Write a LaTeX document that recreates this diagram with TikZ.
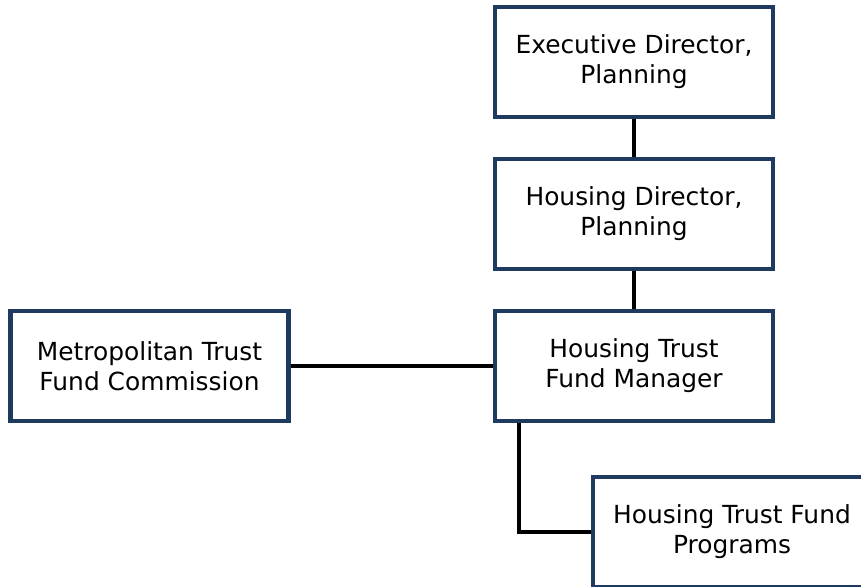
\documentclass[tikz,border=0pt]{standalone}
\usepackage{fontspec}
\setmainfont{DejaVu Sans}
\definecolor{boxnavy}{HTML}{1F3A5F}
\begin{document}
\begin{tikzpicture}[
    orgbox/.style={rectangle, draw=boxnavy, line width=3pt, fill=white, minimum width=6.95cm, minimum height=2.75cm, align=center, font=\fontsize{17.7}{21.3}\selectfont},
    link/.style={draw=black, line width=2.6pt}
]
            \useasboundingbox (0,0) rectangle (21.525,14.65);

            % Top box
            \node[orgbox] (exec) at (15.85,13.1) {Executive Director,\\Planning};

            % Second box
            \node[orgbox] (hdir) at (15.85,9.3) {Housing Director,\\Planning};

            % Manager box
            \node[orgbox] (mgr) at (15.85,5.5) {Housing Trust\\Fund Manager};

            % Commission box on the left
            \node[orgbox] (metro) at (3.7375,5.5) {Metropolitan Trust\\Fund Commission};

            % Programs box, runs off the page
            \node[orgbox] (prog) at (18.3,1.35) {Housing Trust Fund\\Programs};

            % Connectors
            \draw[link] (exec) -- (hdir);
            \draw[link] (hdir) -- (mgr);
            \draw[link] (metro) -- (mgr);
            \draw[link] (mgr.south west) ++(0.65,0) coordinate (drop) -- (drop |- prog.west) -- (prog.west);
        \end{tikzpicture}
\end{document}
